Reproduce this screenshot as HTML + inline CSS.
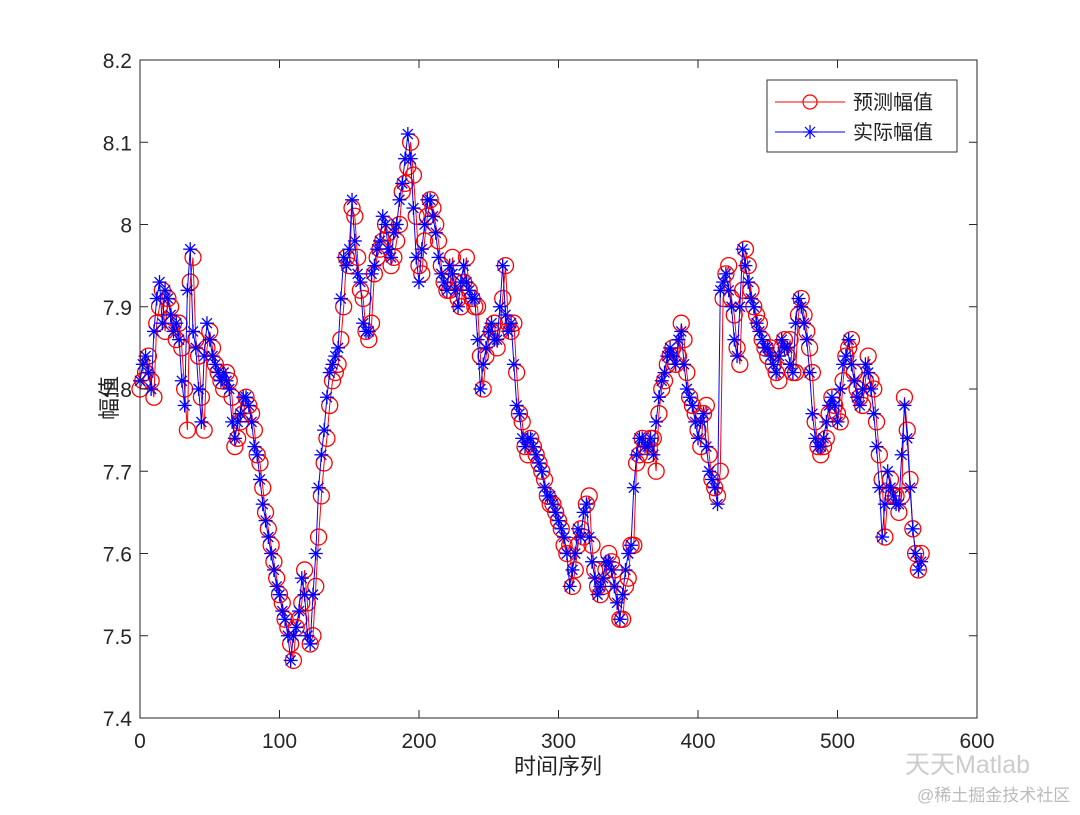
<!DOCTYPE html>
<html><head><meta charset="utf-8">
<style>
body{margin:0;background:#fff;}
svg text{font-family:"Liberation Sans","Noto Sans CJK SC",sans-serif;}
</style></head>
<body>
<svg id="chart" width="1080" height="810" xmlns="http://www.w3.org/2000/svg">
<rect x="0" y="0" width="1080" height="810" fill="#fff"/>
<g id="marks"></g>
<g id="axes"></g>
<g>
<rect x="767" y="80" width="190" height="72" fill="#fff" stroke="#333" stroke-width="1"/>
<line x1="775" y1="102" x2="845" y2="102" stroke="#f00" stroke-width="1"/>
<circle cx="810" cy="102" r="7" fill="none" stroke="#f00" stroke-width="1.2"/>
<text x="853" y="109" font-size="20" fill="#222">预测幅值</text>
<line x1="775" y1="132" x2="845" y2="132" stroke="#00f" stroke-width="1"/>
<g stroke="#00f" stroke-width="1.2"><line x1="803" y1="132" x2="817" y2="132"/><line x1="810" y1="125" x2="810" y2="139"/><line x1="805" y1="127" x2="815" y2="137"/><line x1="805" y1="137" x2="815" y2="127"/></g>
<text x="853" y="139" font-size="20" fill="#222">实际幅值</text>
</g>
<text transform="translate(117,398) rotate(-90)" text-anchor="middle" font-size="22" fill="#222">幅值</text>
<text x="558" y="774" text-anchor="middle" font-size="22" fill="#222">时间序列</text>
<text x="905" y="773" font-size="25" fill="#ccc">天天Matlab</text>
<text x="917" y="801" font-size="17" fill="#bbb">@稀土掘金技术社区</text>
</svg>
<script>
const xStep = 2;
const actual = [7.81,7.83,7.84,7.82,7.80,7.87,7.91,7.93,7.88,7.92,7.91,7.89,7.87,7.88,7.86,7.81,7.78,7.92,7.97,7.87,7.85,7.80,7.76,7.84,7.88,7.86,7.84,7.83,7.82,7.81,7.82,7.81,7.80,7.76,7.74,7.76,7.77,7.79,7.79,7.78,7.76,7.73,7.72,7.69,7.66,7.64,7.62,7.60,7.58,7.56,7.55,7.53,7.52,7.50,7.47,7.50,7.51,7.53,7.57,7.55,7.50,7.49,7.55,7.60,7.68,7.72,7.75,7.79,7.82,7.83,7.84,7.85,7.91,7.96,7.95,7.97,8.03,7.98,7.94,7.93,7.88,7.87,7.87,7.94,7.95,7.97,7.98,8.01,8.00,7.97,7.96,7.99,8.00,8.03,8.05,8.08,8.11,8.08,8.02,7.96,7.93,7.97,8.00,8.03,8.03,8.01,7.99,7.96,7.94,7.93,7.92,7.95,7.94,7.92,7.90,7.93,7.95,7.93,7.92,7.91,7.91,7.86,7.80,7.83,7.85,7.87,7.88,7.86,7.86,7.90,7.95,7.89,7.87,7.88,7.83,7.78,7.77,7.74,7.73,7.74,7.74,7.73,7.72,7.71,7.70,7.68,7.67,7.67,7.66,7.65,7.64,7.63,7.62,7.60,7.56,7.58,7.60,7.63,7.62,7.65,7.66,7.62,7.59,7.57,7.55,7.56,7.57,7.59,7.59,7.58,7.56,7.54,7.52,7.55,7.58,7.60,7.61,7.68,7.72,7.74,7.74,7.73,7.73,7.74,7.72,7.76,7.79,7.81,7.82,7.84,7.85,7.84,7.83,7.86,7.87,7.83,7.80,7.79,7.78,7.76,7.74,7.76,7.77,7.73,7.70,7.69,7.68,7.66,7.92,7.93,7.94,7.92,7.90,7.86,7.84,7.90,7.97,7.95,7.93,7.91,7.90,7.88,7.87,7.86,7.85,7.85,7.84,7.83,7.82,7.84,7.86,7.85,7.85,7.83,7.82,7.88,7.91,7.90,7.88,7.86,7.82,7.77,7.74,7.73,7.73,7.74,7.76,7.78,7.79,7.78,7.76,7.80,7.83,7.84,7.86,7.83,7.81,7.79,7.78,7.80,7.83,7.82,7.80,7.77,7.73,7.68,7.62,7.66,7.70,7.68,7.67,7.66,7.66,7.72,7.78,7.74,7.68,7.63,7.60,7.58,7.59];
const predicted = [7.80,7.81,7.82,7.84,7.81,7.79,7.88,7.90,7.92,7.87,7.91,7.90,7.88,7.86,7.88,7.85,7.80,7.75,7.93,7.96,7.86,7.84,7.79,7.75,7.85,7.87,7.85,7.83,7.82,7.81,7.80,7.82,7.81,7.79,7.73,7.74,7.76,7.77,7.79,7.78,7.77,7.75,7.72,7.71,7.68,7.65,7.63,7.61,7.59,7.57,7.55,7.54,7.52,7.51,7.49,7.47,7.51,7.52,7.54,7.58,7.54,7.49,7.50,7.56,7.62,7.67,7.71,7.74,7.78,7.81,7.82,7.83,7.86,7.90,7.96,7.95,8.02,8.01,7.96,7.92,7.91,7.87,7.86,7.88,7.94,7.96,7.97,7.98,8.00,7.99,7.95,7.96,7.98,8.00,8.04,8.05,8.07,8.10,8.06,8.01,7.95,7.94,7.98,8.01,8.03,8.02,8.00,7.98,7.95,7.93,7.92,7.92,7.96,7.93,7.91,7.90,7.93,7.96,7.92,7.91,7.90,7.90,7.84,7.80,7.84,7.86,7.87,7.88,7.85,7.87,7.91,7.95,7.88,7.87,7.88,7.82,7.77,7.76,7.73,7.72,7.74,7.73,7.72,7.71,7.70,7.69,7.67,7.66,7.66,7.65,7.64,7.63,7.61,7.60,7.61,7.56,7.58,7.61,7.63,7.62,7.66,7.67,7.61,7.58,7.56,7.55,7.56,7.58,7.60,7.59,7.58,7.55,7.52,7.52,7.56,7.57,7.61,7.61,7.71,7.72,7.74,7.73,7.72,7.74,7.74,7.70,7.77,7.80,7.81,7.83,7.84,7.85,7.83,7.84,7.88,7.86,7.82,7.79,7.78,7.77,7.75,7.73,7.77,7.78,7.72,7.69,7.68,7.67,7.70,7.91,7.94,7.95,7.91,7.89,7.85,7.83,7.92,7.97,7.95,7.92,7.90,7.89,7.88,7.86,7.85,7.84,7.85,7.83,7.82,7.81,7.85,7.86,7.84,7.86,7.82,7.82,7.89,7.91,7.89,7.87,7.85,7.82,7.76,7.73,7.72,7.73,7.74,7.77,7.79,7.78,7.77,7.76,7.81,7.84,7.85,7.86,7.82,7.80,7.79,7.78,7.81,7.84,7.81,7.80,7.76,7.72,7.69,7.62,7.67,7.69,7.67,7.67,7.65,7.67,7.79,7.75,7.69,7.63,7.60,7.58,7.60];
const xTicks = [0,100,200,300,400,500,600];
const yTicks = [7.4,7.5,7.6,7.7,7.8,7.9,8,8.1,8.2];
const yTickLabels = ["7.4","7.5","7.6","7.7","7.8","7.9","8","8.1","8.2"];

const L=140,R=977,T=60,B=718;
const X = v => L + (v-0)/(600-0)*(R-L);
const Y = v => B - (v-7.4)/(8.2-7.4)*(B-T);
const NS="http://www.w3.org/2000/svg";
function mk(tag,attrs,parent){const e=document.createElementNS(NS,tag);for(const k in attrs)e.setAttribute(k,attrs[k]);parent.appendChild(e);return e;}

const marks=document.getElementById('marks');
const pPts=predicted.map((v,i)=>X(i*xStep).toFixed(1)+','+Y(v).toFixed(1)).join(' ');
const pl=mk('polyline',{points:pPts,fill:'none',stroke:'#f00','stroke-width':1},marks);


predicted.forEach((v,i)=>{
  const c=mk('circle',{cx:X(i*xStep),cy:Y(v),r:8,fill:'none',stroke:'#f00','stroke-width':1.3},marks);
  
  
});
const aPts=actual.map((v,i)=>X(i*xStep).toFixed(1)+','+Y(v).toFixed(1)).join(' ');
const al=mk('polyline',{points:aPts,fill:'none',stroke:'#00f','stroke-width':1},marks);


actual.forEach((v,i)=>{
  const cx=X(i*xStep),cy=Y(v);
  const g=mk('g',{stroke:'#00f','stroke-width':1.3},marks);
  
  
  mk('line',{x1:cx-7,y1:cy,x2:cx+7,y2:cy},g);
  mk('line',{x1:cx,y1:cy-7,x2:cx,y2:cy+7},g);
  mk('line',{x1:cx-5,y1:cy-5,x2:cx+5,y2:cy+5},g);
  mk('line',{x1:cx-5,y1:cy+5,x2:cx+5,y2:cy-5},g);
});

const axes=document.getElementById('axes');
const frame=mk('rect',{x:L,y:T,width:R-L,height:B-T,fill:'none',stroke:'#262626','stroke-width':1},axes);


xTicks.forEach(t=>{
  const x=X(t);
  mk('line',{x1:x,y1:B,x2:x,y2:B-8,stroke:'#262626'},axes);
  mk('line',{x1:x,y1:T,x2:x,y2:T+8,stroke:'#262626'},axes);
  const tx=mk('text',{x:x,y:B+30,'text-anchor':'middle','font-size':21,fill:'#262626'},axes);
  tx.textContent=String(t);
  
  
});
yTicks.forEach((t,i)=>{
  const y=Y(t);
  mk('line',{x1:L,y1:y,x2:L+8,y2:y,stroke:'#262626'},axes);
  mk('line',{x1:R,y1:y,x2:R-8,y2:y,stroke:'#262626'},axes);
  const tx=mk('text',{x:L-8,y:y+8,'text-anchor':'end','font-size':21,fill:'#262626'},axes);
  tx.textContent=yTickLabels[i];
  
  
});
</script>
</body></html>
